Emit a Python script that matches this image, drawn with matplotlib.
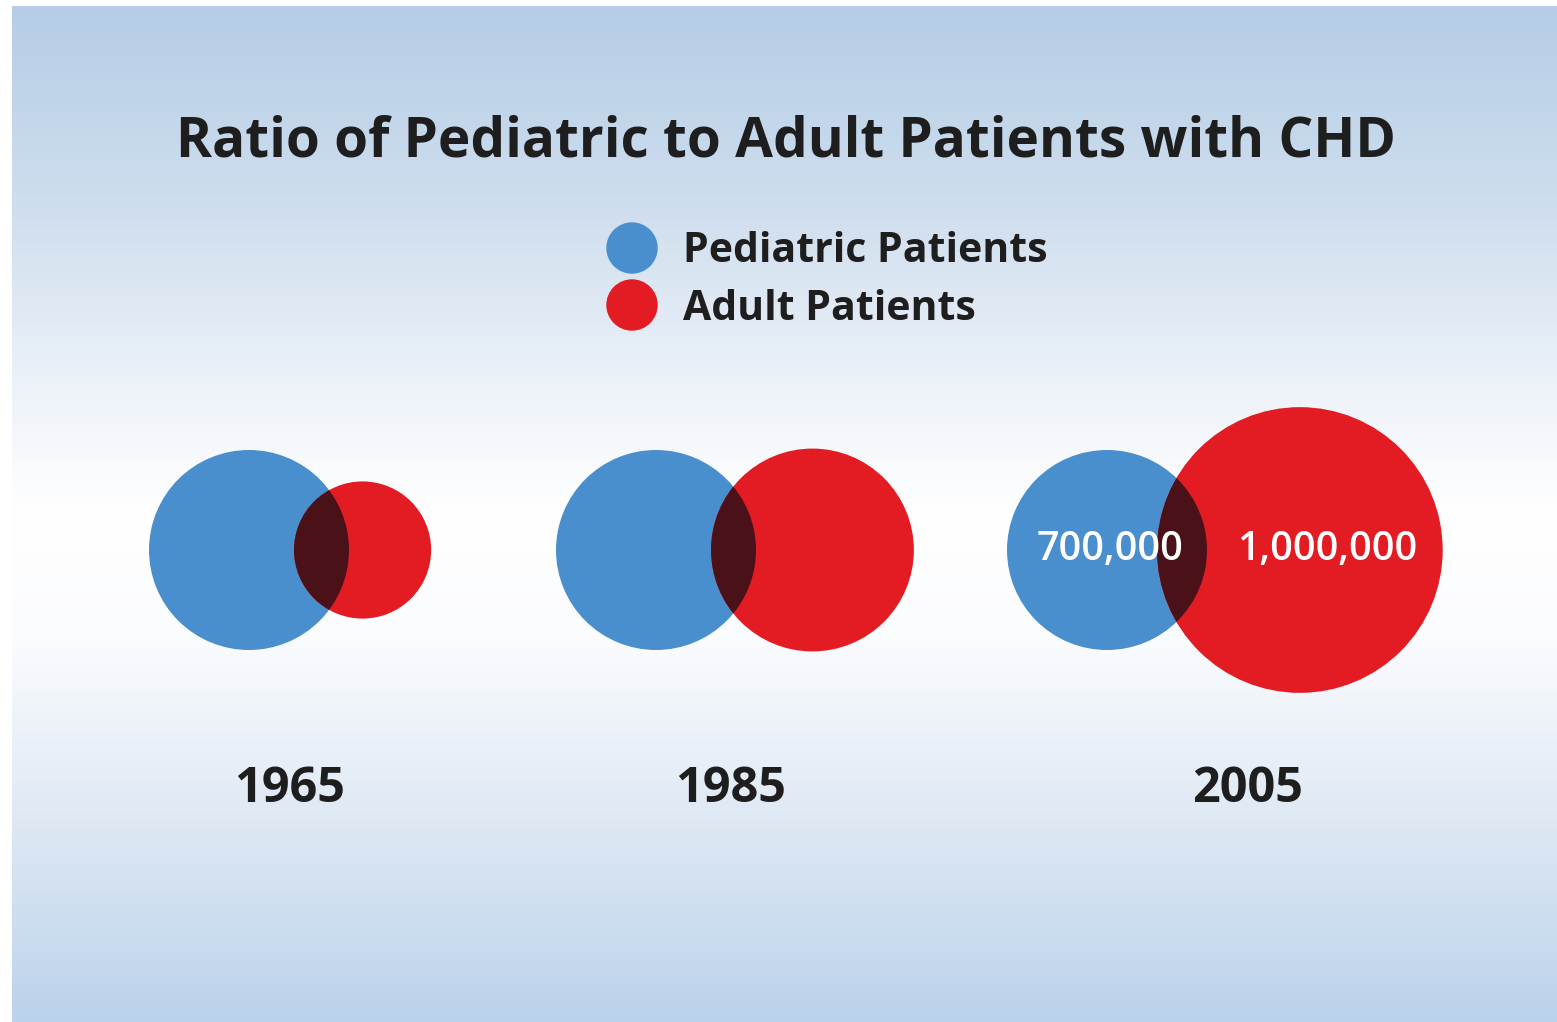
import matplotlib
matplotlib.use("Agg")
import matplotlib.pyplot as plt
from matplotlib.patches import Circle
from matplotlib.colors import LinearSegmentedColormap
import numpy as np

plt.rcParams['font.family'] = ['Open Sans', 'DejaVu Sans']

# data
years = ['1965', '1985', '2005']
pediatric = [700000, 700000, 700000]
adult = [480000, 710000, 1000000]
shown_labels = [None, None, ('700,000', '1,000,000')]

title = 'Ratio of Pediatric to Adult Patients with CHD'
legend_names = ['Pediatric Patients', 'Adult Patients']

blue = '#4a8fcd'
red = '#e31b23'
dark = '#4b1119'
txt = '#1e1e1e'

W, H = 1557, 1022
fig = plt.figure(figsize=(W / 100, H / 100), dpi=100)
ax = fig.add_axes([0, 0, 1, 1])
ax.set_xlim(0, W)
ax.set_ylim(H, 0)
ax.axis('off')

# background panel with vertical gradient
cmap = LinearSegmentedColormap.from_list('bg', [
    (0.0, '#b5cde6'), (0.2, '#cfdeee'), (0.38, '#eef3f9'), (0.5, '#ffffff'),
    (0.62, '#fbfcfe'), (0.8, '#dfe9f4'), (1.0, '#bbd2eb')])
grad = np.linspace(0, 1, 256).reshape(-1, 1)
ax.imshow(grad, cmap=cmap, extent=[12, W, H, 6], aspect='auto', zorder=0)

ax.text(786, 142, title, ha='center', va='center', fontsize=39.5,
        fontweight='bold', color=txt)

# legend
for i, (name, col) in enumerate(zip(legend_names, [blue, red])):
    y = 248 + i * 57
    ax.add_patch(Circle((632, y), 25, color=col, zorder=2))
    ax.text(683, y + 4, name, ha='left', va='center', fontsize=29.5,
            fontweight='bold', color=txt)

# circles: radius scaled linearly with patient count
k = 100 / 700000.0
overlap = [55, 45, 50]
blue_x = [249, 656, 1107]
year_x = [290, 731, 1248]
cy = 550
for i in range(len(years)):
    rb = pediatric[i] * k
    rr = adult[i] * k
    bx = blue_x[i]
    rx = bx + rb + rr - overlap[i]
    ax.add_patch(Circle((bx, cy), rb, color=blue, lw=0, zorder=3))
    ax.add_patch(Circle((rx, cy), rr, color=red, lw=0, zorder=3))
    inter = Circle((rx, cy), rr, color=dark, lw=0, zorder=4)
    ax.add_patch(inter)
    inter.set_clip_path(Circle((bx, cy), rb, transform=ax.transData))
    ax.text(year_x[i], 790, years[i], ha='center', va='center', fontsize=35,
            fontweight='bold', color=txt)
    if shown_labels[i]:
        ax.text(bx + 3, cy, shown_labels[i][0], ha='center', va='center',
                fontsize=28.5, fontweight='semibold', color='white', zorder=5)
        ax.text(rx + 27, cy, shown_labels[i][1], ha='center', va='center',
                fontsize=28.5, fontweight='semibold', color='white', zorder=5)

fig.savefig('out.png', dpi=100, facecolor='white')
